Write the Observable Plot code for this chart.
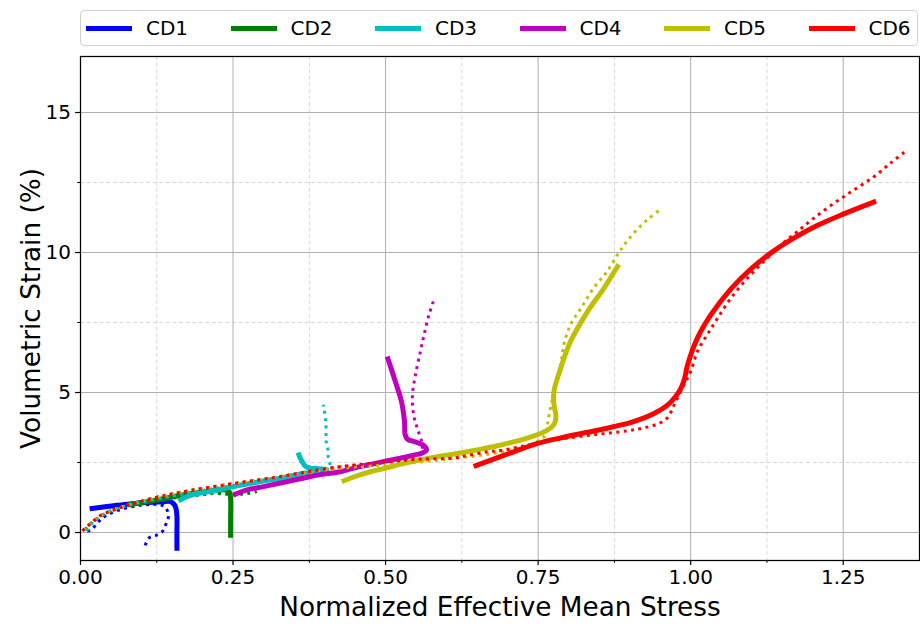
<!DOCTYPE html>
<html>
<head>
<meta charset="utf-8">
<script src="https://cdn.jsdelivr.net/npm/d3@7"></script>
<script src="https://cdn.jsdelivr.net/npm/@observablehq/plot@0.6"></script>
<style>
  body { margin: 0; background: #fff; font-family: "DejaVu Sans", sans-serif; }
  #wrap { position: relative; width: 920px; height: 624px; }
  #legend { position: absolute; left: 80px; top: 10px; width: 836px; height: 34px;
            border: 1px solid #d0d0d0; border-radius: 4px; background: #fff; }
  .item { position: absolute; top: 0; height: 34px; display: flex; align-items: center;
          font-size: 20px; color: #000; }
  .swatch { width: 46px; height: 5px; margin-right: 14px; }
</style>
</head>
<body>
<div id="wrap"><div id="legend"></div></div>
<script>
// Volumetric strain (%) against normalized effective mean stress.
// Solid: test curves; dotted: model curves. Pairs are [stress, strain].
const labels = ["CD1", "CD2", "CD3", "CD4", "CD5", "CD6"];
const colors = ["#0000ff", "#008000", "#00bfbf", "#bf00bf", "#bfbf00", "#ff0000"];

const cd1Test = [[0.019,0.86],[0.04,0.92],[0.06,0.97],[0.085,1.03],[0.11,1.07],[0.135,1.1],[0.146,1.11],
  [0.152,1.04],[0.156,0.9],[0.158,0.6],[0.158,0.0],[0.158,-0.56]];
const cd1Model = [[0.011,0.04],[0.018,0.1],[0.026,0.3],[0.034,0.48],[0.044,0.63],[0.06,0.78],[0.08,0.9],
  [0.101,0.98],[0.118,1.0],[0.13,1.0],[0.139,0.9],[0.144,0.65],[0.143,0.45],[0.139,0.25],[0.134,0.03],
  [0.123,-0.11],[0.112,-0.2],[0.106,-0.46]];

const cd2Test = [[0.082,1.0],[0.1,1.07],[0.13,1.18],[0.164,1.33],[0.19,1.41],[0.215,1.48],[0.238,1.52],
  [0.244,1.45],[0.246,1.2],[0.246,0.5],[0.246,-0.1]];
const cd2Model = [[0.008,0.1],[0.02,0.38],[0.035,0.6],[0.06,0.85],[0.1,1.05],[0.15,1.22],[0.2,1.35],
  [0.219,1.4],[0.238,1.37],[0.251,1.35],[0.265,1.37],[0.276,1.4],[0.289,1.46]];

const cd3Test = [[0.164,1.17],[0.18,1.33],[0.2,1.42],[0.219,1.49],[0.246,1.62],[0.273,1.73],[0.3,1.84],
  [0.328,1.94],[0.366,2.12],[0.39,2.2],[0.402,2.24],[0.39,2.28],[0.377,2.3],[0.369,2.36],[0.363,2.54],[0.358,2.77]];
const cd3Model = [[0.01,0.05],[0.02,0.35],[0.04,0.68],[0.07,0.93],[0.1,1.08],[0.15,1.3],[0.2,1.5],
  [0.25,1.68],[0.3,1.86],[0.35,2.05],[0.39,2.2],[0.409,2.3],[0.409,2.42],[0.406,2.65],[0.406,2.92],
  [0.403,3.19],[0.402,3.96],[0.398,4.56]];

const cd4Test = [[0.254,1.37],[0.273,1.52],[0.3,1.64],[0.328,1.77],[0.36,1.92],[0.393,2.07],[0.426,2.17],
  [0.448,2.3],[0.475,2.43],[0.503,2.56],[0.53,2.68],[0.546,2.76],[0.56,2.84],[0.567,2.95],[0.563,3.1],
  [0.548,3.24],[0.536,3.33],[0.532,3.5],[0.531,3.96],[0.526,4.68],[0.516,5.39],[0.504,6.2]];
const cd4Model = [[0.004,0.08],[0.008,0.14],[0.014,0.27],[0.022,0.42],[0.03,0.57],[0.041,0.69],[0.052,0.79],
  [0.063,0.87],[0.079,0.99],[0.1,1.12],[0.134,1.3],[0.156,1.4],[0.18,1.5],[0.246,1.73],[0.328,2.0],
  [0.41,2.3],[0.45,2.4],[0.5,2.52],[0.54,2.65],[0.556,2.8],[0.56,3.0],[0.559,3.25],[0.552,3.72],
  [0.546,4.2],[0.544,4.91],[0.549,5.63],[0.557,6.46],[0.563,7.06],[0.571,7.77],[0.579,8.3]];

const cd5Test = [[0.432,1.85],[0.45,2.0],[0.475,2.17],[0.5,2.3],[0.53,2.47],[0.557,2.6],[0.585,2.71],
  [0.623,2.84],[0.65,2.95],[0.678,3.07],[0.705,3.21],[0.732,3.37],[0.76,3.6],[0.772,3.76],[0.778,3.95],
  [0.779,4.2],[0.776,4.56],[0.776,5.04],[0.787,5.87],[0.803,6.82],[0.831,7.89],[0.858,8.73],[0.88,9.5]];
const cd5Model = [[0.005,0.08],[0.014,0.27],[0.03,0.57],[0.052,0.79],[0.079,0.99],[0.134,1.3],[0.18,1.5],
  [0.246,1.73],[0.328,2.0],[0.41,2.26],[0.45,2.34],[0.503,2.42],[0.557,2.52],[0.628,2.68],[0.678,2.83],
  [0.72,3.02],[0.749,3.25],[0.76,3.43],[0.764,3.6],[0.766,3.96],[0.768,4.2],[0.776,5.04],[0.787,6.0],
  [0.792,6.7],[0.803,7.42],[0.82,8.0],[0.841,8.73],[0.863,9.32],[0.88,9.92],[0.891,10.27],[0.907,10.7],
  [0.929,11.17],[0.948,11.5]];

const cd6Test = [[0.648,2.39],[0.678,2.63],[0.71,2.88],[0.749,3.18],[0.787,3.38],[0.831,3.58],[0.87,3.76],
  [0.905,3.95],[0.94,4.25],[0.962,4.55],[0.975,4.85],[0.984,5.15],[0.99,5.5],[0.995,5.99],[1.011,6.94],
  [1.033,7.77],[1.066,8.7],[1.098,9.4],[1.13,9.96],[1.164,10.45],[1.208,10.97],[1.251,11.38],[1.3,11.8]];
const cd6Model = [[0.003,0.06],[0.008,0.15],[0.014,0.27],[0.022,0.42],[0.03,0.57],[0.041,0.69],[0.052,0.79],
  [0.063,0.87],[0.079,0.99],[0.1,1.12],[0.134,1.3],[0.18,1.5],[0.246,1.73],[0.328,2.0],[0.41,2.3],
  [0.5,2.52],[0.56,2.62],[0.612,2.66],[0.639,2.77],[0.667,2.88],[0.689,2.93],[0.749,3.19],[0.787,3.34],
  [0.841,3.49],[0.896,3.63],[0.92,3.72],[0.945,3.87],[0.962,4.1],[0.973,4.56],[0.989,5.27],[1.0,5.75],
  [1.011,6.46],[1.027,7.06],[1.044,7.65],[1.066,8.37],[1.093,9.08],[1.12,9.68],[1.148,10.27],[1.175,10.75],
  [1.202,11.23],[1.235,11.76],[1.268,12.24],[1.3,12.7],[1.328,13.2],[1.35,13.58]];

const xMajor = [0, 0.25, 0.5, 0.75, 1.0, 1.25];
const xMinor = [0.125, 0.375, 0.625, 0.875, 1.125];
const yMajor = [0, 5, 10, 15];
const yMinor = [2.5, 7.5, 12.5];
const xLabel = "Normalized Effective Mean Stress";
const yLabel = "Volumetric Strain (%)";

const tests = [cd1Test, cd2Test, cd3Test, cd4Test, cd5Test, cd6Test];
const models = [cd1Model, cd2Model, cd3Model, cd4Model, cd5Model, cd6Model];

const px = d => d[0], py = d => d[1];
const curveMarks = [];
tests.forEach((t, i) => {
  curveMarks.push(Plot.line(t, {x: px, y: py, stroke: colors[i], strokeWidth: 5,
    strokeLinecap: "square", strokeLinejoin: "round", curve: "catmull-rom"}));
  curveMarks.push(Plot.line(models[i], {x: px, y: py, stroke: colors[i], strokeWidth: 3,
    strokeDasharray: "3,4.4", strokeLinecap: "butt", curve: "catmull-rom"}));
});

const chart = Plot.plot({
  width: 920, height: 624,
  marginLeft: 80, marginRight: 1, marginTop: 56, marginBottom: 64,
  style: {fontFamily: "DejaVu Sans, sans-serif", fontSize: "20px", color: "#000", background: "#fff"},
  x: {domain: [0, 1.375]},
  y: {domain: [-1, 17]},
  marks: [
    Plot.ruleX(xMinor, {stroke: "#d8d8d8", strokeWidth: 1, strokeDasharray: "4,2.6"}),
    Plot.ruleY(yMinor, {stroke: "#d8d8d8", strokeWidth: 1, strokeDasharray: "4,2.6"}),
    Plot.ruleX(xMajor.slice(1), {stroke: "#b0b0b0", strokeWidth: 1}),
    Plot.ruleY(yMajor, {stroke: "#b0b0b0", strokeWidth: 1}),
    ...curveMarks,
    Plot.axisX({ticks: xMajor, tickFormat: d3.format(".2f"), tickSize: 4.9, tickPadding: 4.4,
      fontSize: 20, label: null, strokeWidth: 1.2}),
    Plot.axisX({ticks: xMinor, tickSize: 2.8, tickFormat: () => "", label: null}),
    Plot.axisY({ticks: yMajor, tickSize: 4.9, tickPadding: 4.6, fontSize: 20, label: null, strokeWidth: 1.2}),
    Plot.axisY({ticks: yMinor, tickSize: 2.8, tickFormat: () => "", label: null}),
    Plot.frame({stroke: "#000", strokeWidth: 1.25}),
    Plot.text([xLabel], {text: d => d, frameAnchor: "bottom", dy: 55, lineAnchor: "bottom",
      fontSize: 26.3, fill: "#000"}),
    Plot.text([yLabel], {text: d => d, frameAnchor: "left", dx: -41, rotate: -90,
      textAnchor: "middle", lineAnchor: "bottom", fontSize: 26.3, fill: "#000"})
  ]
});
const wrap = document.getElementById("wrap");
wrap.insertBefore(chart, wrap.firstChild);

// Legend row: one swatch per test curve, spread across the plot width.
const legend = document.getElementById("legend");
labels.forEach((name, i) => {
  const item = document.createElement("div");
  item.className = "item";
  item.style.left = (5 + i * 144.5) + "px";
  const sw = document.createElement("div");
  sw.className = "swatch";
  sw.style.background = colors[i];
  const tx = document.createElement("span");
  tx.textContent = name;
  item.appendChild(sw);
  item.appendChild(tx);
  legend.appendChild(item);
});
</script>
</body>
</html>
